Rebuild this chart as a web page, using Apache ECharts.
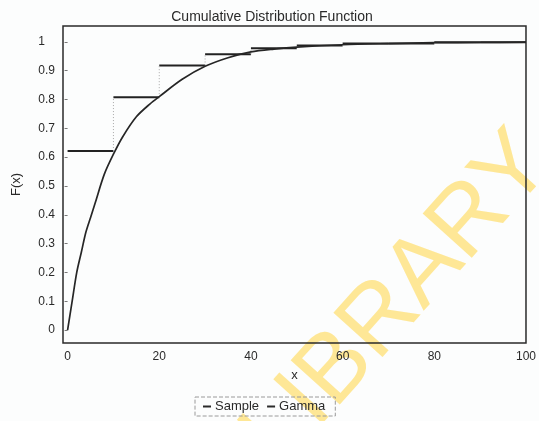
<!DOCTYPE html>
<html>
<head>
<meta charset="utf-8">
<script src="https://cdn.jsdelivr.net/npm/echarts@6/dist/echarts.min.js"></script>
<style>
html,body{margin:0;padding:0;background:#fcfdfd;}
#chart{width:539px;height:421px;}
</style>
</head>
<body>
<div id="chart"></div>
<script>
// ---- data ----
const titleText = 'Cumulative Distribution Function';
const xTicks = [0, 20, 40, 60, 80, 100];
const yTicks = [0, 0.1, 0.2, 0.3, 0.4, 0.5, 0.6, 0.7, 0.8, 0.9, 1];

// Sample (empirical) step CDF: bin edges and level on each bin
const sampleEdges = [0, 10, 20, 30, 40, 50, 60, 70, 80, 90, 100];
const sampleValues = [0.621, 0.808, 0.918, 0.957, 0.978, 0.987, 0.994, 0.994, 0.999, 0.999];

// Fitted Gamma CDF
const gammaX = [0, 0.5, 1, 2, 3, 4, 5, 6, 8, 10, 12, 15, 18, 20, 25, 30, 35, 40, 45, 50, 60, 70, 80, 90, 100];
const gammaY = [0, 0.05, 0.10, 0.20, 0.27, 0.34, 0.39, 0.44, 0.54, 0.61, 0.67, 0.74, 0.785, 0.81, 0.87, 0.915, 0.945, 0.965, 0.975, 0.982, 0.99, 0.994, 0.997, 0.998, 0.999];

const watermarkText = 'LIBRARY';

// ---- build series data ----
const sampleData = sampleValues.map((v, i) => [sampleEdges[i], sampleEdges[i + 1], v, i > 0 ? sampleValues[i - 1] : v]);
const gammaData = gammaX.map((x, i) => [x, gammaY[i]]);

const chart = echarts.init(document.getElementById('chart'), null, {renderer: 'canvas'});
const ink = '#2a2a2a';
const font = 'Liberation Sans, Arial, sans-serif';

chart.setOption({
  backgroundColor: '#fcfdfd',
  animation: false,
  textStyle: {fontFamily: font},
  title: {
    text: titleText,
    left: 267, top: 5, textAlign: 'center',
    textStyle: {fontSize: 14, fontWeight: 'normal', color: ink, fontFamily: font}
  },
  graphic: [{
    type: 'text',
    z: -10,
    x: 398, y: 300,
    rotation: 48 * Math.PI / 180,
    style: {
      text: watermarkText,
      font: '96px Liberation Sans, Arial, sans-serif',
      fill: '#fee796',
      align: 'center',
      verticalAlign: 'middle'
    }
  }],
  grid: {
    left: 63, right: 10, top: 26, bottom: 78,
    show: true, borderColor: ink, borderWidth: 1.5, backgroundColor: 'transparent'
  },
  legend: {
    data: [{name: 'Sample'}, {name: 'Gamma'}],
    left: 195, top: 397,
    icon: 'rect', itemWidth: 8, itemHeight: 2, itemGap: 8,
    borderColor: '#9a9a9a', borderWidth: 1, borderType: 'dashed',
    padding: [3, 10, 3, 8],
    textStyle: {fontSize: 13, color: ink, fontFamily: font, padding: [0, 0, 0, -1]}
  },
  xAxis: {
    type: 'value', min: -1, max: 100,
    name: 'x', nameLocation: 'middle', nameGap: 26,
    nameTextStyle: {fontSize: 13, color: ink, fontFamily: font},
    axisLine: {show: false},
    axisTick: {show: false},
    splitLine: {show: false},
    axisLabel: {customValues: xTicks, fontSize: 12, color: ink, margin: 8, fontFamily: font}
  },
  yAxis: {
    type: 'value', min: -0.045, max: 1.055,
    name: 'F(x)', nameLocation: 'middle', nameGap: 40,
    nameTextStyle: {fontSize: 13, color: ink, fontFamily: font},
    axisLine: {show: false},
    axisTick: {show: true, customValues: yTicks, length: 3, inside: false, lineStyle: {color: '#777'}},
    splitLine: {show: false},
    axisLabel: {
      customValues: yTicks, fontSize: 12, color: ink, margin: 8, fontFamily: font,
      formatter: function (v) {
        const s = String(Math.round(v * 10) / 10);
        return v === 1 ? '{one|' + s + '}' : s;
      },
      rich: {one: {fontSize: 12, color: ink, padding: [0, 10, 0, 0], fontFamily: font}}
    }
  },
  series: [
    {
      name: 'Sample',
      type: 'custom',
      itemStyle: {color: ink},
      encode: {x: [0, 1], y: [2, 3]},
      data: sampleData,
      renderItem: function (params, api) {
        const x0 = api.value(0), x1 = api.value(1), v = api.value(2), pv = api.value(3);
        const a = api.coord([x0, v]), b = api.coord([x1, v]);
        const children = [{
          type: 'line',
          shape: {x1: a[0], y1: a[1], x2: b[0], y2: b[1]},
          style: {stroke: '#222', lineWidth: 2}
        }];
        if (pv !== v) {
          const c = api.coord([x0, pv]);
          children.push({
            type: 'line',
            shape: {x1: c[0], y1: c[1], x2: a[0], y2: a[1]},
            style: {stroke: '#a8a8a8', lineWidth: 1, lineDash: [1, 2]}
          });
        }
        return {type: 'group', children: children};
      },
      z: 3
    },
    {
      name: 'Gamma',
      type: 'line',
      data: gammaData,
      smooth: 0.3,
      showSymbol: false,
      lineStyle: {color: '#262626', width: 1.7},
      itemStyle: {color: ink},
      z: 4
    }
  ]
});
</script>
</body>
</html>
